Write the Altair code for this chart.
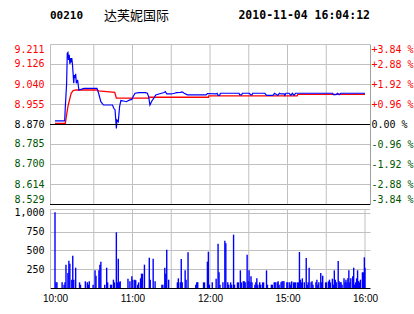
import altair as alt
import pandas as pd

# ---------------- header text ----------------
code_text = "00210"
name_text = "达芙妮国际"
stamp_text = "2010-11-04 16:04:12"

# ---------------- axes ----------------
price_ticks = [8.529, 8.614, 8.700, 8.785, 8.870, 8.955, 9.040, 9.126, 9.211]
prev_close = 8.870
pct_ticks = [-3.84, -2.88, -1.92, -0.96, 0.0, 0.96, 1.92, 2.88, 3.84]
pct_rules = [0.0, -3.84]
vol_ticks = [250, 500, 750, 1000]
time_ticks = [0, 60, 120, 180, 240]
time_labels = ["10:00", "11:00", "12:00", "15:00", "16:00"]
grid_minutes = [30, 60, 90, 120, 150, 180, 210, 240]

# ---------------- price line (minutes of trading from 10:00) ----------------
blue_t = [0, 7.5, 8, 9, 9.5, 10, 10.5, 11, 11.5, 12, 12.5, 13, 13.5, 14, 14.5, 15, 15.5, 16,
          16.5, 17.5, 18.5, 22.5, 32.5, 33.75, 35.5, 37.5, 44.5, 45.5, 46.5, 47.5, 48, 49,
          50, 51, 53, 55, 58, 59.5, 60.5, 62, 65, 70, 71.5, 72.5, 73.5, 75, 76.5, 78, 80.5,
          82.5, 84.5, 85.5, 86.5, 90, 92.5, 94, 97, 98.5, 100, 102.5, 112.5, 117, 118, 124.5,
          125.5, 126.25, 127.5, 128, 142.5, 143, 144.5, 145, 150.5, 151.5, 152.5, 153, 162.5,
          163.75, 168.75, 170, 172.5, 173.75, 175, 177.5, 178, 178.75, 181.25, 182.5, 183.75,
          185, 186.25, 187.5, 215, 215.5, 217.5, 218.75, 220, 221.25, 240]
blue_p = [8.883, 8.883, 8.944, 9.044, 9.172, 9.175, 9.143, 9.165, 9.126, 9.151, 9.132, 9.151,
          9.126, 9.086, 9.044, 9.079, 9.072, 9.084, 9.044, 9.058, 9.015, 9.022, 9.022, 9.001,
          8.965, 8.951, 8.951, 8.937, 8.930, 8.851, 8.887, 8.880, 8.944, 8.970, 8.968, 8.965,
          8.973, 8.975, 8.987, 9.001, 9.004, 9.004, 9.001, 8.987, 8.951, 8.968, 8.980, 8.994,
          8.998, 9.001, 9.004, 9.008, 8.998, 8.998, 9.001, 9.004, 9.005, 9.007, 9.001, 8.994,
          8.994, 8.994, 9.000, 8.998, 9.001, 8.992, 8.992, 9.001, 9.001, 8.994, 8.994, 9.001,
          9.001, 8.994, 8.994, 9.001, 9.001, 8.992, 8.992, 9.001, 8.992, 9.001, 8.998, 8.998,
          8.992, 9.001, 9.001, 8.992, 9.001, 8.992, 9.001, 9.001, 9.001, 8.995, 8.995, 9.001,
          8.995, 9.001, 9.001]

red_t = [0, 8, 8.75, 10, 11.25, 12.5, 14, 16.25, 32.5, 33.75, 46.25, 47.5, 72.5, 73,
         118.75, 119, 187.5, 188, 240]
red_p = [8.873, 8.873, 8.901, 8.944, 8.973, 9.001, 9.012, 9.015, 9.015, 9.011, 9.005, 8.980,
         8.980, 8.984, 8.984, 8.990, 8.990, 8.996, 8.996]

# ---------------- volume bars ----------------
vol_t = [0, 0.75, 1.5, 5.5, 7, 7.75, 8.5, 10, 10.75, 11.5,
         13, 13.75, 14.5, 16, 19, 19.75, 23.5, 25, 25.75, 26.5,
         29.5, 31, 31.75, 34, 34.75, 35.5, 38.5, 40, 40.75, 43,
         43.75, 45.25, 46, 47.5, 48.25, 49, 49.75, 50.5, 56.5, 58,
         59.5, 60.25, 61.75, 62.5, 64, 64.75, 66.25, 67, 67.75, 69.25,
         73, 73.75, 76, 77.5, 82.75, 83.5, 85, 85.75, 86.5, 88,
         94.75, 95.5, 97, 97.75, 98.5, 100.75, 101.5, 103, 109, 109.75,
         110.5, 115, 115.75, 118, 118.75, 119.5, 121.75, 124.75, 126.25, 127,
         127.75, 130, 131.5, 132.25, 133.75, 134.5, 136, 136.75, 138.25, 139,
         141.25, 142, 143.5, 144.25, 145.75, 146.5, 147.25, 148.75, 149.5, 150.25,
         151, 151.75, 152.5, 154.75, 155.5, 156.25, 157, 158.5, 159.25, 160.75,
         161.5, 163.75, 164.5, 167.5, 168.25, 169.75, 170.5, 172, 172.75, 173.5,
         175, 175.75, 176.5, 177.25, 179.5, 180.25, 181.75, 182.5, 183.25, 184.75,
         185.5, 186.25, 187.75, 188.5, 189.25, 190, 190.75, 191.5, 193, 194.5,
         195.25, 196, 196.75, 198.25, 199, 199.75, 202, 202.75, 203.5, 204.25,
         205.75, 206.5, 207.25, 209.5, 210.25, 211.75, 212.5, 213.25, 214.75, 215.5,
         216.25, 217, 217.75, 219.25, 220, 220.75, 221.5, 222.25, 223.75, 224.5,
         225.25, 226, 226.75, 227.5, 228.25, 229, 230.5, 231.25, 232, 232.75,
         233.5, 234.25, 235, 235.75, 236.5, 238, 238.75, 239.5, 240]
vol_v = [1009, 75, 75, 75, 44, 75, 311, 200, 364, 324,
         111, 431, 111, 271, 75, 44, 89, 75, 44, 89,
         44, 235, 164, 235, 311, 351, 44, 271, 75, 44,
         44, 111, 75, 742, 75, 391, 75, 89, 124, 89,
         155, 111, 111, 102, 44, 75, 129, 191, 191, 311,
         404, 111, 391, 89, 44, 44, 271, 191, 511, 111,
         75, 129, 75, 387, 75, 235, 111, 476, 44, 75,
         75, 75, 75, 351, 484, 44, 75, 124, 591, 209,
         44, 75, 631, 596, 75, 44, 75, 44, 711, 44,
         75, 75, 235, 75, 89, 89, 75, 444, 93, 235,
         75, 155, 75, 44, 75, 129, 44, 75, 44, 75,
         75, 235, 44, 44, 44, 75, 75, 75, 89, 44,
         75, 89, 89, 89, 75, 75, 75, 44, 89, 75,
         75, 75, 75, 75, 480, 111, 75, 129, 75, 400,
         44, 75, 271, 75, 89, 44, 75, 111, 44, 75,
         200, 75, 164, 75, 75, 89, 111, 75, 124, 44,
         235, 111, 75, 360, 89, 75, 75, 44, 129, 75,
         111, 75, 129, 235, 75, 129, 155, 271, 44, 75,
         129, 236, 93, 75, 111, 209, 209, 409, 271]

# ---------------- styling ----------------
W, H = 320, 244
UP_H = 160
LO_TOP = 165
GRID = "#c0c0c0"
RED = "#ff0000"
GREEN = "#005500"
MONO = "DejaVu Sans Mono"

time_expr = "".join(
    f"datum.value == {t} ? '{lab}' : " for t, lab in zip(time_ticks, time_labels)
) + "''"

X_SCALE = alt.Scale(domain=[0, 240], nice=False, zero=False)
X_AXIS = alt.Axis(values=time_ticks, labelExpr=time_expr, grid=False, ticks=False,
                  domainColor="#000000", labelFont="Liberation Sans", labelFontSize=10,
                  labelColor="#000000", labelPadding=5, labelFlush=False,
                  labelOverlap=False, title=None)


def xenc(field):
    return alt.X(f"{field}:Q", scale=X_SCALE, axis=X_AXIS)


price_df = pd.DataFrame({"t": blue_t, "p": blue_p})
avg_df = pd.DataFrame({"t": red_t, "p": red_p})

PRICE_SCALE = alt.Scale(domain=[price_ticks[0], price_ticks[-1]], range=[UP_H, 0],
                        nice=False, zero=False)
PRICE_AXIS = alt.Axis(orient="left", values=price_ticks, format=".3f", grid=True,
                      gridColor=GRID, ticks=False, domainColor=GRID, labelFlush=True,
                      labelFont=MONO, labelFontSize=10, labelPadding=6, title=None,
                      labelColor={"condition": [
                          {"test": f"datum.value > {prev_close + 0.0005}", "value": RED},
                          {"test": f"datum.value < {prev_close - 0.0005}", "value": GREEN}],
                          "value": "#000000"})

avg_line = alt.Chart(avg_df).mark_line(color=RED, strokeWidth=1.3).encode(
    x=xenc("t"), y=alt.Y("p:Q", scale=PRICE_SCALE, axis=PRICE_AXIS))
price_line = alt.Chart(price_df).mark_line(color="#0000ff", strokeWidth=1.2).encode(
    x=xenc("t"), y=alt.Y("p:Q", scale=PRICE_SCALE, axis=PRICE_AXIS))
price_layer = alt.layer(avg_line, price_line)

NBSP = "\u00a0"
pct_expr = (f"(datum.value > 0.001 ? '+' : datum.value < -0.001 ? '-' : '{NBSP}') + "
            "format(abs(datum.value), '.2f') + ' %'")
pct_layer = alt.Chart(pd.DataFrame({"pct": pct_rules})).mark_rule(
    color="#000000", strokeWidth=1).encode(
    y=alt.Y("pct:Q",
            scale=alt.Scale(domain=[pct_ticks[0], pct_ticks[-1]],
                            range=[UP_H + 0.5, 0.5], nice=False, zero=False),
            axis=alt.Axis(orient="right", values=pct_ticks, labelExpr=pct_expr,
                          ticks=False, grid=False, domainColor="#a0a0a0",
                          labelFlush=True, labelPadding=1, labelFont=MONO,
                          labelFontSize=10, title=None,
                          labelColor={"condition": [
                              {"test": "datum.value > 0.001", "value": RED},
                              {"test": "datum.value < -0.001", "value": GREEN}],
                              "value": "#000000"})))

vol_df = pd.DataFrame({"t": vol_t, "v": vol_v})
vol_layer = alt.Chart(vol_df).mark_bar(size=1.4, color="#0000ff").encode(
    x=xenc("t"),
    y=alt.Y("v:Q", scale=alt.Scale(domain=[0, 1053], range=[H, LO_TOP], nice=False),
            axis=alt.Axis(orient="left", values=vol_ticks, grid=True, gridColor=GRID,
                          ticks=False, domainColor=GRID, labelFont=MONO, labelFontSize=10,
                          labelColor="#000000", labelPadding=6, title=None)))

grid_df = pd.DataFrame({"t": grid_minutes})
vgrid_up = alt.Chart(grid_df[grid_df.t < 240]).mark_rule(color=GRID, strokeWidth=1).encode(
    x=xenc("t"), y=alt.value(0), y2=alt.value(UP_H))
vgrid_lo = alt.Chart(grid_df).mark_rule(color=GRID, strokeWidth=1).encode(
    x=xenc("t"), y=alt.value(LO_TOP), y2=alt.value(H))
lo_top = alt.Chart(pd.DataFrame({"a": [0]})).mark_rule(color=GRID, strokeWidth=1).encode(
    x=alt.value(0), x2=alt.value(W), y=alt.value(LO_TOP + 0.5))


def header(txt, x, align, font, size, weight):
    return alt.Chart(pd.DataFrame({"s": [txt]})).mark_text(
        align=align, baseline="middle", font=font, fontSize=size, fontWeight=weight,
        color="#000000").encode(text="s:N", x=alt.value(x), y=alt.value(-28))


hdr = alt.layer(
    header(code_text, 0, "left", MONO, 11, "bold"),
    header(name_text, 54, "left", "Noto Sans CJK SC", 13, "normal"),
    header(stamp_text, 320, "right", MONO, 11.5, "bold"),
)

chart = alt.layer(
    vgrid_up, vgrid_lo, lo_top, price_layer, pct_layer, vol_layer, hdr
).resolve_scale(y="independent").properties(
    width=W, height=H,
    autosize=alt.AutoSizeParams(type="none"),
    padding={"left": 50, "top": 44, "right": 44, "bottom": 26},
    background="#ffffff",
).configure_view(stroke=None)

chart.save("out.html", embed_options={"renderer": "svg", "actions": False})
